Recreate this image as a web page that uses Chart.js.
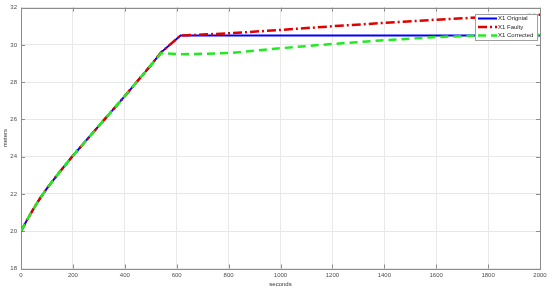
<!DOCTYPE html>
<html>
<head>
<meta charset="utf-8">
<script src="https://cdn.jsdelivr.net/npm/chart.js@4.4.1/dist/chart.umd.min.js"></script>
<style>
  html, body { margin: 0; padding: 0; background: #fff; }
</style>
</head>
<body>
<canvas id="lineChart" width="550" height="291"></canvas>
<script>
const seconds   = [0, 25, 50, 75, 100, 150, 200, 300, 400, 500, 540, 615, 700, 800, 1000, 1200, 1400, 1600, 1800, 2000];
const original  = [20, 20.65, 21.25, 21.8, 22.3, 23.2, 24.05, 25.65, 27.25, 28.9, 29.6, 30.5, 30.5, 30.5, 30.5, 30.5, 30.5, 30.5, 30.5, 30.5];
const faulty    = [20, 20.65, 21.25, 21.8, 22.3, 23.2, 24.05, 25.65, 27.25, 28.9, 29.6, 30.5, 30.55, 30.62, 30.8, 31.0, 31.18, 31.35, 31.5, 31.62];
const corrected = [20, 20.65, 21.25, 21.8, 22.3, 23.2, 24.05, 25.65, 27.25, 28.9, 29.55, 29.5, 29.52, 29.56, 29.82, 30.05, 30.25, 30.42, 30.52, 30.55];
const xTicks = [0, 200, 400, 600, 800, 1000, 1200, 1400, 1600, 1800, 2000];
const yTicks = [18, 20, 22, 24, 26, 28, 30, 32];

const toPoints = vals => vals.map((v, i) => ({ x: seconds[i], y: v }));

const FONT = '"Liberation Sans", Arial, sans-serif';

// box round the plot and short ticks pointing inward, like matlab
const framePlugin = {
    id: 'frame',
    beforeDatasetsDraw(chart) {
        const { ctx, chartArea: a, scales: { x, y } } = chart;
        ctx.save();
        ctx.strokeStyle = '#8c8c8c';
        ctx.lineWidth = 1;
        ctx.beginPath();
        x.ticks.forEach(t => {
            const px = Math.round(x.getPixelForValue(t.value)) + 0.5;
            ctx.moveTo(px, a.bottom); ctx.lineTo(px, a.bottom - 4);
            ctx.moveTo(px, a.top); ctx.lineTo(px, a.top + 4);
        });
        y.ticks.forEach(t => {
            const py = Math.round(y.getPixelForValue(t.value)) + 0.5;
            ctx.moveTo(a.left, py); ctx.lineTo(a.left + 4, py);
            ctx.moveTo(a.right, py); ctx.lineTo(a.right - 4, py);
        });
        ctx.stroke();
        ctx.strokeRect(Math.round(a.left) + 0.5, Math.round(a.top) + 0.5, Math.round(a.width), Math.round(a.height));
        ctx.restore();
    }
};

// legend box inside the top right corner
const legendPlugin = {
    id: 'legendBox',
    afterDatasetsDraw(chart) {
        const { ctx, chartArea: a } = chart;
        const sets = chart.data.datasets;
        const w = 62, rowH = 8.5, h = 26;
        const left = Math.round(a.right - 3 - w), top = Math.round(a.top + 6);
        ctx.save();
        ctx.fillStyle = '#ffffff';
        ctx.fillRect(left, top, w, h);
        ctx.strokeStyle = '#a0a0a0';
        ctx.lineWidth = 1;
        ctx.strokeRect(left + 0.5, top + 0.5, w, h);
        ctx.font = '6px ' + FONT;
        ctx.textBaseline = 'middle';
        sets.forEach((ds, i) => {
            const cy = top + 4.5 + i * rowH;
            ctx.setLineDash(ds.borderDash || []);
            ctx.strokeStyle = ds.borderColor;
            ctx.lineWidth = ds.borderWidth;
            ctx.beginPath();
            ctx.moveTo(left + 3, cy);
            ctx.lineTo(left + 22, cy);
            ctx.stroke();
            ctx.setLineDash([]);
            ctx.fillStyle = '#262626';
            ctx.fillText(ds.label, left + 23, cy);
        });
        ctx.restore();
    }
};

const ctx = document.getElementById('lineChart').getContext('2d');
const lineChart = new Chart(ctx, {
    type: 'line',
    data: {
        datasets: [{
            label: 'X1 Orignial',
            data: toPoints(original),
            borderColor: '#0000ff',
            borderWidth: 2,
            order: 2,
        }, {
            label: 'X1 Faulty',
            data: toPoints(faulty),
            borderColor: '#e00000',
            borderWidth: 2.5,
            borderDash: [9, 3, 2, 3],
            order: 1,
        }, {
            label: 'X1 Corrected',
            data: toPoints(corrected),
            borderColor: '#22ea22',
            borderWidth: 2.5,
            borderDash: [8, 5],
            order: 0,
        }]
    },
    options: {
        responsive: false,
        animation: false,
        events: [],
        elements: {
            point: { radius: 0 },
            line: { tension: 0, fill: false }
        },
        layout: {
            padding: { top: 6, right: 10, left: 0, bottom: 0 }
        },
        scales: {
            x: {
                type: 'linear',
                min: 0,
                max: 2000,
                afterBuildTicks: s => { s.ticks = xTicks.map(v => ({ value: v })); },
                afterFit: s => { s.height = 22.5; },
                ticks: {
                    padding: 3,
                    color: '#4d4d4d',
                    maxRotation: 0,
                    callback: v => String(v),
                    font: { size: 6, family: FONT }
                },
                grid: {
                    color: '#e8e8e8',
                    drawTicks: false
                },
                border: { display: false },
                title: {
                    display: true,
                    text: 'seconds',
                    color: '#333333',
                    padding: { top: 0, bottom: 3 },
                    font: { size: 6, family: FONT }
                }
            },
            y: {
                min: 18,
                max: 32,
                afterBuildTicks: s => { s.ticks = yTicks.map(v => ({ value: v })); },
                afterFit: s => { s.width = 21; },
                ticks: {
                    padding: 4,
                    color: '#4d4d4d',
                    callback: v => String(v),
                    font: { size: 6, family: FONT }
                },
                grid: {
                    color: '#e8e8e8',
                    drawTicks: false
                },
                border: { display: false },
                title: {
                    display: true,
                    text: 'meters',
                    color: '#333333',
                    padding: { top: 2, bottom: 0 },
                    font: { size: 6, family: FONT }
                }
            }
        },
        plugins: {
            legend: { display: false },
            tooltip: { enabled: false }
        }
    },
    plugins: [framePlugin, legendPlugin]
});
</script>
</body>
</html>
